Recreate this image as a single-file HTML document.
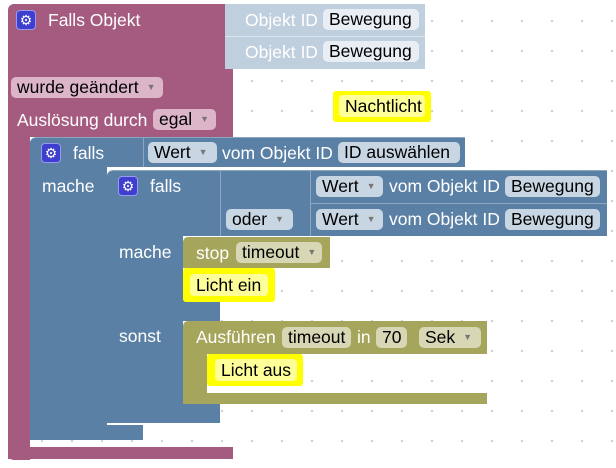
<!DOCTYPE html>
<html><head><meta charset="utf-8"><style>
body{margin:0;width:616px;height:468px;overflow:hidden;background:#fff;font-family:"Liberation Sans",Arial,sans-serif;font-size:17.5px;
background-image:radial-gradient(circle,#d0d0d0 1px,transparent 1.4px);background-size:30px 30px;background-position:-3px 6px}
div{position:absolute;box-sizing:border-box}
.m{background:#a55b80}.b{background:#5b80a5;border-top:1px solid #8ca6c0}.o{background:#a5a55b}.l{background:#bfcfdd}
.y{background:#ffff00;border-radius:3px}
.t{color:#fff;white-space:nowrap;line-height:20px}
.p{border-radius:5px;color:#000;padding-left:6px;line-height:21px;height:21px;white-space:nowrap;overflow:hidden}
.pm{background:#dcb5c8}.pb{background:#c8d6e4}.po{background:#d7d7b5}.py{background:#ffff9a;border-radius:4px}
.g{width:20px;height:20px;background:#3f3fcf;border:1px solid #9999ee;border-radius:4px;color:#fff;font-size:14px;text-align:center;line-height:18px}
.ar{color:#777;font-size:9px;margin-left:8px;vertical-align:3px}
</style></head><body>
<!-- maroon -->
<div class="m" style="left:8px;top:4px;width:225px;height:133px;border-radius:6px 0 0 0"></div>
<div class="m" style="left:8px;top:130px;width:22px;height:330px;border-radius:0 0 0 6px"></div>
<div class="m" style="left:8px;top:447px;width:225px;height:12px"></div>
<div class="l" style="left:225px;top:4px;width:200px;height:32px"></div>
<div class="l" style="left:225px;top:36px;width:200px;height:33px;border-top:1px solid #dde6ee"></div>
<div class="t" style="left:245px;top:10px;color:#fff">Objekt ID</div>
<div class="t" style="left:245px;top:42px;color:#fff">Objekt ID</div>
<div class="p" style="left:323px;top:9px;width:96px;background:#e8eef4">Bewegung</div>
<div class="p" style="left:323px;top:41px;width:96px;background:#e8eef4">Bewegung</div>
<div class="g" style="left:16px;top:10px">⚙</div>
<div class="t" style="left:48px;top:10px">Falls Objekt</div>
<div class="p pm" style="left:11px;top:77px;width:152px">wurde geändert<span class="ar">▼</span></div>
<div class="t" style="left:17px;top:110px">Auslösung durch</div>
<div class="p pm" style="left:153px;top:109px;width:63px">egal<span class="ar">▼</span></div>
<div class="y" style="left:333px;top:91px;width:98px;height:31px"></div>
<div class="p py" style="left:339px;top:95px;width:86px;height:22px;line-height:22px">Nachtlicht</div>
<!-- outer blue -->
<div class="b" style="left:30px;top:137px;width:435px;height:30px;border-radius:6px 0 0 0"></div>
<div class="b" style="left:30px;top:160px;width:77px;height:280px;border-top:0;border-radius:0 0 0 6px"></div>
<div class="b" style="left:30px;top:425px;width:113px;height:15px;border-top:0"></div>
<div class="g" style="left:41px;top:143px">⚙</div>
<div class="t" style="left:73px;top:143px">falls</div>
<div style="left:143px;top:137px;width:1px;height:30px;background:#8ca6c0"></div>
<div class="p pb" style="left:148px;top:142px;width:69px">Wert<span class="ar">▼</span></div>
<div class="t" style="left:222px;top:143px">vom Objekt ID</div>
<div class="p pb" style="left:338px;top:142px;width:122px">ID auswählen</div>
<div class="t" style="left:42px;top:176px">mache</div>
<!-- inner blue -->
<div class="b" style="left:107px;top:170px;width:500px;height:66px;border-radius:6px 0 0 0"></div>
<div class="b" style="left:107px;top:230px;width:76px;height:193px;border-top:0;border-radius:0 0 0 6px"></div>
<div class="b" style="left:107px;top:300px;width:113px;height:21px;border-top:0"></div>
<div class="b" style="left:107px;top:404px;width:113px;height:19px;border-top:0"></div>
<div style="left:220px;top:170px;width:1px;height:66px;background:#8ca6c0"></div>
<div style="left:310px;top:170px;width:1px;height:66px;background:#8ca6c0"></div>
<div style="left:310px;top:203px;width:297px;height:1px;background:#8ca6c0"></div>
<div class="g" style="left:118px;top:176px">⚙</div>
<div class="t" style="left:150px;top:176px">falls</div>
<div class="p pb" style="left:226px;top:209px;width:67px">oder<span class="ar">▼</span></div>
<div class="p pb" style="left:316px;top:176px;width:67px">Wert<span class="ar">▼</span></div>
<div class="t" style="left:389px;top:176px">vom Objekt ID</div>
<div class="p pb" style="left:505px;top:176px;width:95px">Bewegung</div>
<div class="p pb" style="left:316px;top:209px;width:67px">Wert<span class="ar">▼</span></div>
<div class="t" style="left:389px;top:209px">vom Objekt ID</div>
<div class="p pb" style="left:505px;top:209px;width:95px">Bewegung</div>
<div class="t" style="left:119px;top:242px">mache</div>
<div class="t" style="left:119px;top:326px">sonst</div>
<!-- stop -->
<div class="o" style="left:183px;top:237px;width:147px;height:31px;border-radius:5px 0 0 0"></div>
<div class="t" style="left:196px;top:243px">stop</div>
<div class="p po" style="left:236px;top:242px;width:86px">timeout<span class="ar">▼</span></div>
<div class="y" style="left:183px;top:268px;width:92px;height:34px"></div>
<div class="p py" style="left:190px;top:274px;width:78px;height:22px;line-height:22px">Licht ein</div>
<!-- Ausführen -->
<div class="o" style="left:183px;top:321px;width:304px;height:33px;border-radius:5px 0 0 0"></div>
<div class="o" style="left:183px;top:350px;width:24px;height:54px;border-radius:0 0 0 5px"></div>
<div class="o" style="left:183px;top:393px;width:304px;height:11px"></div>
<div class="t" style="left:196px;top:327px">Ausführen</div>
<div class="p po" style="left:282px;top:327px;width:69px">timeout</div>
<div class="t" style="left:357px;top:327px">in</div>
<div class="p po" style="left:376px;top:327px;width:31px">70</div>
<div class="p po" style="left:419px;top:327px;width:62px">Sek<span class="ar">▼</span></div>
<div class="y" style="left:207px;top:354px;width:96px;height:32px"></div>
<div class="p py" style="left:215px;top:359px;width:82px;height:22px;line-height:22px">Licht aus</div>
</body></html>
